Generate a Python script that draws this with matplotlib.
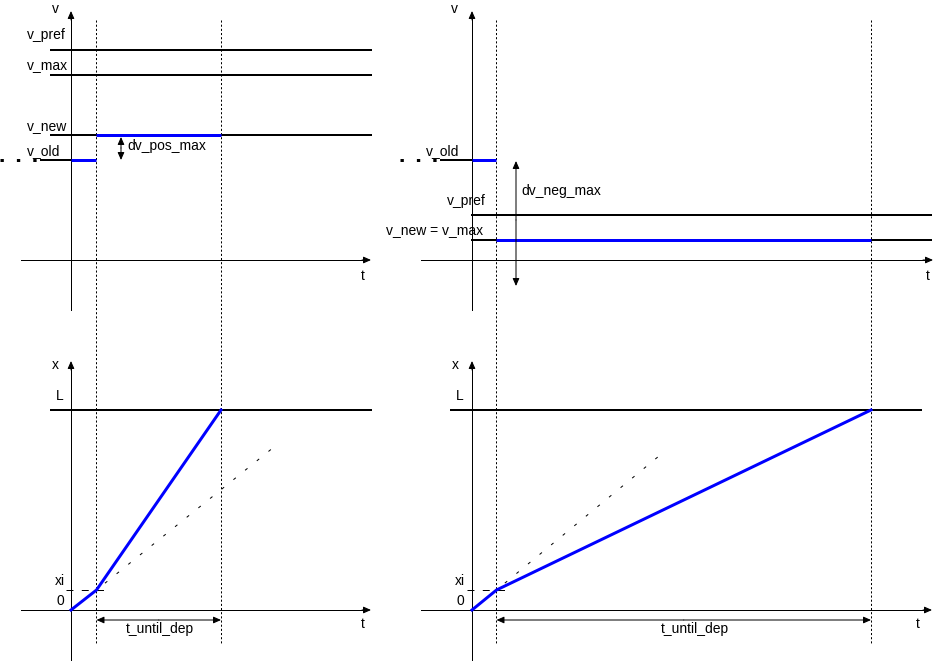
import matplotlib
matplotlib.use("Agg")
import matplotlib.pyplot as plt

# Schematic drawn in pixel space of the 937x661 picture (y grows downward)
plt.rcParams['font.family'] = ['Liberation Sans', 'DejaVu Sans']
plt.rcParams['lines.scale_dashes'] = False

PX = 0.72  # one pixel in points at dpi 100

# --- layout of the four panels ---
axis_x = [71, 472]            # vertical axis position, left / right panels
t_change = [96.5, 496.5]      # time of speed change (first dotted line)
t_dep = [221, 871]            # departure time (second dotted line)
top_axis_y = 260              # v = 0 in the top panels
bot_axis_y = 610              # x = 0 in the bottom panels

# top-left panel levels
tl_levels = {'v_pref': 50, 'v_max': 75, 'v_new': 135}
tl_v_old = 160
# top-right panel levels
tr_v_old = 160
tr_v_pref = 215
tr_v_new = 240

# bottom panels
L_level = 410
xi_level = 590
bl_curve_x = [71, 96.5, 221]
bl_curve_y = [610, 590, 410]
br_curve_x = [472, 496.5, 871]
br_curve_y = [610, 590, 410]
bl_extrap_end = (274, 447)
br_extrap_end = (659, 456)

fig = plt.figure(figsize=(9.37, 6.61), dpi=100)
ax = fig.add_axes([0, 0, 1, 1])
ax.set_xlim(0, 937)
ax.set_ylim(661, 0)
ax.axis('off')


def arrow(x0, y0, x1, y1):
    ax.annotate('', xy=(x1, y1), xytext=(x0, y0),
                arrowprops=dict(arrowstyle='-|>,head_length=0.45,head_width=0.2',
                                mutation_scale=10, lw=1 * PX, color='k',
                                shrinkA=0, shrinkB=0))


def label(x, y, s):
    ax.text(x, y, s, fontsize=10, ha='left', va='baseline', color='k')


# dotted vertical time markers spanning both rows
for xs in t_change + t_dep:
    ax.plot([xs, xs], [20, 645], color='k', lw=1 * PX, ls=(0, (1.5, 1.5)))

# ---------------- top-left ----------------
ax.plot([71, 71], [310, 14], color='k', lw=1 * PX)
arrow(71, 20, 71, 11)
ax.plot([21, 364], [top_axis_y, top_axis_y], color='k', lw=1 * PX)
arrow(362, top_axis_y, 371, top_axis_y)
for name, y in tl_levels.items():
    ax.plot([51, 371], [y, y], color='k', lw=2 * PX)
ax.plot([0, 40], [tl_v_old, tl_v_old], color='k', lw=3 * PX, ls=(0, (2.4, 9.4)))
ax.plot([41, 71], [tl_v_old, tl_v_old], color='k', lw=2 * PX)
ax.plot([71, t_change[0]], [tl_v_old, tl_v_old], color='blue', lw=3 * PX, solid_capstyle='butt')
ax.plot([t_change[0], t_dep[0]], [tl_levels['v_new'], tl_levels['v_new']],
        color='blue', lw=3 * PX, solid_capstyle='butt')
arrow(121, 148, 121, 137)
arrow(121, 148, 121, 160)
label(52, 13, 'v')
label(27, 39, 'v_pref')
label(27, 69, 'v_max')
label(27, 130, 'v_new')
label(27, 155, 'v_old')
label(127, 150, 'dv_pos_max')
label(361, 280, 't')

# ---------------- top-right ----------------
ax.plot([472, 472], [310, 14], color='k', lw=1 * PX)
arrow(472, 20, 472, 11)
ax.plot([421, 925], [top_axis_y, top_axis_y], color='k', lw=1 * PX)
arrow(923, top_axis_y, 933, top_axis_y)
ax.plot([400, 440], [tr_v_old, tr_v_old], color='k', lw=3 * PX, ls=(0, (2.4, 9.4)))
ax.plot([441, 472], [tr_v_old, tr_v_old], color='k', lw=2 * PX)
ax.plot([472, t_change[1]], [tr_v_old, tr_v_old], color='blue', lw=3 * PX, solid_capstyle='butt')
ax.plot([472, 931], [tr_v_pref, tr_v_pref], color='k', lw=2 * PX)
ax.plot([472, 931], [tr_v_new, tr_v_new], color='k', lw=2 * PX)
ax.plot([t_change[1], t_dep[1]], [tr_v_new, tr_v_new], color='blue', lw=3 * PX, solid_capstyle='butt')
arrow(516, 220, 516, 161)
arrow(516, 220, 516, 286)
label(451, 13, 'v')
label(426, 155, 'v_old')
label(521, 195, 'dv_neg_max')
label(447, 205, 'v_pref')
label(386, 234, 'v_new = v_max')
label(926, 280, 't')

# ---------------- bottom panels ----------------
for k, (cx, cy, ext) in enumerate([(bl_curve_x, bl_curve_y, bl_extrap_end),
                                    (br_curve_x, br_curve_y, br_extrap_end)]):
    ox = axis_x[k]
    x_left = 21 if k == 0 else 421
    x_right = 371 if k == 0 else 932
    L_left = 51 if k == 0 else 451
    L_right = 371 if k == 0 else 921
    ax.plot([ox, ox], [661, 364], color='k', lw=1 * PX)
    arrow(ox, 370, ox, 361)
    ax.plot([x_left, x_right - 7], [bot_axis_y, bot_axis_y], color='k', lw=1 * PX)
    arrow(x_right - 9, bot_axis_y, x_right, bot_axis_y)
    ax.plot([L_left, L_right], [L_level, L_level], color='k', lw=2 * PX)
    ax.plot([ox - 5, t_change[k] + 10], [xi_level, xi_level], color='k', lw=1 * PX,
            ls=(0, (5, 6)))
    ax.plot([cx[1], ext[0]], [cy[1], ext[1]], color='k', lw=1 * PX, ls=(3, (2.2, 8.6)))
    ax.plot(cx, cy, color='blue', lw=3 * PX, solid_joinstyle='round')
    arrow((t_change[k] + t_dep[k]) / 2, 620, t_change[k], 620)
    arrow((t_change[k] + t_dep[k]) / 2, 620, t_dep[k], 620)

label(52, 369, 'x')
label(56, 400, 'L')
label(55, 585, 'xi')
label(57, 605, '0')
label(361, 628, 't')
label(126, 633, 't_until_dep')

label(452, 369, 'x')
label(456, 400, 'L')
label(455, 585, 'xi')
label(457, 605, '0')
label(916, 628, 't')
label(661, 633, 't_until_dep')

fig.savefig('out.png', dpi=100)
